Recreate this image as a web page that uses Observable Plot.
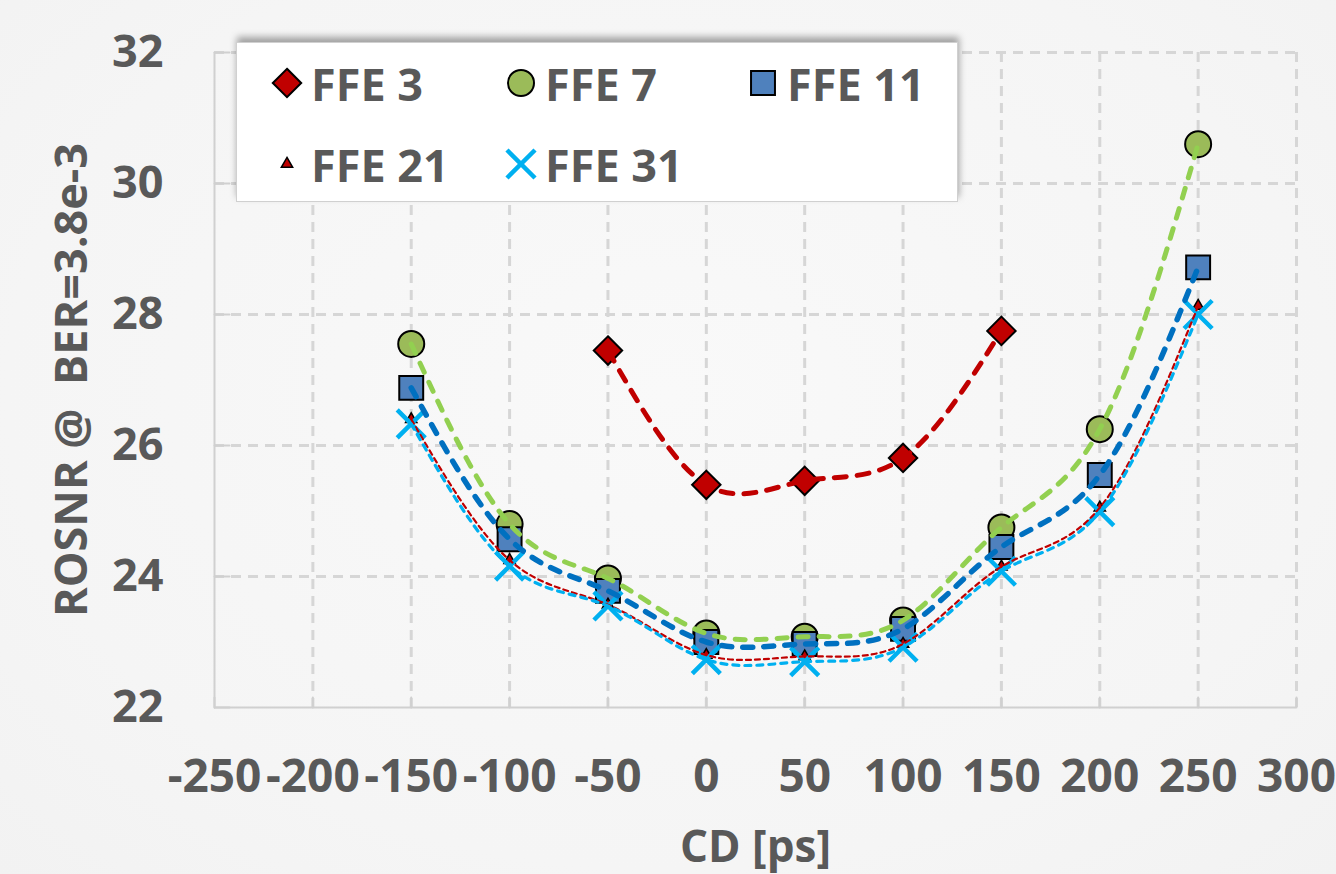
<!DOCTYPE html>
<html>
<head>
<meta charset="utf-8">
<script src="https://cdn.jsdelivr.net/npm/d3@7"></script>
<script src="https://cdn.jsdelivr.net/npm/@observablehq/plot@0.6"></script>
<style>
  html, body { margin: 0; padding: 0; background: #f6f6f6; }
  #wrap { position: relative; width: 1336px; height: 874px; overflow: hidden;
          background: radial-gradient(ellipse at 50% 45%, #f9f9f9 0%, #f5f5f5 70%, #f2f2f2 100%); }
  #legend { position: absolute; left: 236px; top: 42px; width: 722px; height: 160px;
            background: #ffffff; border: 1px solid #d0d0d0; box-sizing: border-box;
            box-shadow: 1px -5px 7px rgba(0,0,0,0.35); font-family: 'Open Sans', sans-serif;
            font-weight: 700; font-size: 45px; color: #595959; }
  .item { position: absolute; display: flex; align-items: center; height: 60px; }
  .item svg { margin-right: 6px; }
</style>
</head>
<body>
<div id="wrap"><div id="legend"></div></div>
<script>
// ---- data ----
const cdFFE3 = [-50, 0, 50, 100, 150];
const cdAll = [-150, -100, -50, 0, 50, 100, 150, 200, 250];
const ffe3  = [27.45, 25.40, 25.46, 25.81, 27.75];
const ffe7  = [27.55, 24.80, 23.97, 23.13, 23.08, 23.33, 24.75, 26.25, 30.60];
const ffe11 = [26.88, 24.57, 23.78, 23.00, 22.97, 23.20, 24.45, 25.55, 28.72];
const ffe21 = [26.40, 24.25, 23.57, 22.80, 22.78, 22.97, 24.15, 25.05, 28.13];
const ffe31 = [26.33, 24.16, 23.55, 22.73, 22.70, 22.92, 24.08, 24.99, 28.00];
const seriesNames = ["FFE 3", "FFE 7", "FFE 11", "FFE 21", "FFE 31"];
const xTicks = [-250, -200, -150, -100, -50, 0, 50, 100, 150, 200, 250, 300];
const yTicks = [22, 24, 26, 28, 30, 32];
const xLabel = "CD [ps]";
const yLabel = "ROSNR @\u00a0 BER=3.8e-3";

// ---- styles per series ----
const styles = {
  "FFE 3":  {symbol: "diamond2", r: 12.8, fill: "#c00000", stroke: "#000", sw: 2,
             line: "#c00000", lw: 5, dash: "12,11"},
  "FFE 7":  {symbol: "circle", r: 13, fill: "#9bbb59", stroke: "#000", sw: 2,
             line: "#92d050", lw: 5, dash: "10,11"},
  "FFE 11": {symbol: "square", r: 13.5, fill: "#4f81bd", stroke: "#000", sw: 2,
             line: "#0070c0", lw: 5.5, dash: "10,11"},
  "FFE 21": {symbol: "triangle", r: 4.2, fill: "#c00000", stroke: "#000", sw: 1.5,
             line: "#c00000", lw: 2.2, dash: "5,4"},
  "FFE 31": {symbol: "times", r: 12.8, fill: "none", stroke: "#00b0f0", sw: 4.5,
             line: "#00b0f0", lw: 3.2, dash: "6,6"}
};

const seriesData = [
  {name: "FFE 3",  cd: cdFFE3, v: ffe3},
  {name: "FFE 7",  cd: cdAll,  v: ffe7},
  {name: "FFE 11", cd: cdAll,  v: ffe11},
  {name: "FFE 21", cd: cdAll,  v: ffe21},
  {name: "FFE 31", cd: cdAll,  v: ffe31}
].map(s => ({name: s.name, rows: s.cd.map((c, i) => ({cd: c, rosnr: s.v[i], series: s.name}))}));

const font = "'Open Sans', sans-serif";
const gray = "#595959";
const grid = {stroke: "#d6d6d6", strokeOpacity: 1, strokeWidth: 3, strokeDasharray: "10,7"};
const tickShape = {draw(ctx, l) { ctx.moveTo(0, 0); ctx.lineTo(0, -l); }};

const marks = [
  Plot.gridX(xTicks.filter(d => d !== -250), {...grid}),
  Plot.gridY(yTicks.filter(d => d !== 22), {...grid}),
  Plot.ruleX([-250], {stroke: "#d0d0d0", strokeWidth: 2}),
  Plot.ruleY([22], {stroke: "#d0d0d0", strokeWidth: 2}),
  Plot.vector(xTicks, {x: d => d, frameAnchor: "bottom", length: 10, anchor: "start",
                       shape: tickShape, stroke: "#d0d0d0", strokeWidth: 2}),
  Plot.vector(yTicks, {y: d => d, frameAnchor: "left", length: 15, anchor: "start", rotate: 90,
                       shape: tickShape, stroke: "#d0d0d0", strokeWidth: 2}),
  Plot.axisX({ticks: xTicks, tickSize: 0, tickPadding: 52, fontSize: 46, fill: gray,
              fontWeight: 700, label: null, tickFormat: d => String(d)}),
  Plot.axisY({ticks: yTicks, tickSize: 0, tickPadding: 51, fontSize: 45, fill: gray,
              fontWeight: 700, label: null}),
  Plot.text([xLabel], {frameAnchor: "bottom", dy: 140, textAnchor: "middle", lineAnchor: "middle",
                       fontSize: 44, fontWeight: 700, fill: gray}),
  Plot.text([yLabel], {frameAnchor: "left", dx: -142, rotate: -90, textAnchor: "middle",
                       lineAnchor: "middle", fontSize: 45, fontWeight: 700, fill: gray})
];

// markers first (Excel draws trendlines above markers)
for (const s of seriesData) {
  const st = styles[s.name];
  marks.push(Plot.dot(s.rows, {x: "cd", y: "rosnr", symbol: () => st.symbol, r: st.r,
    fill: st.fill, stroke: st.stroke, strokeWidth: st.sw}));
}
for (const s of seriesData) {
  const st = styles[s.name];
  marks.push(Plot.line(s.rows, {x: "cd", y: "rosnr", curve: "natural",
    stroke: st.line, strokeWidth: st.lw, strokeDasharray: st.dash, strokeLinecap: "round"}));
}

const chart = Plot.plot({
  width: 1336, height: 874,
  marginLeft: 214, marginRight: 40, marginTop: 52, marginBottom: 167,
  style: {background: "transparent", fontFamily: font, color: gray, overflow: "visible"},
  x: {domain: [-250, 300]},
  y: {domain: [22, 32]},
  marks
});
chart.style.position = "absolute";
chart.style.left = "0";
chart.style.top = "0";
const wrap = document.getElementById("wrap");
wrap.insertBefore(chart, wrap.firstChild);

// ---- legend ----
const legend = document.getElementById("legend");
const legendPos = {
  "FFE 3":  [32, 10], "FFE 7":  [266, 10], "FFE 11": [508, 10],
  "FFE 21": [32, 91], "FFE 31": [266, 91]
};
const symMap = {diamond2: d3.symbolDiamond2, circle: d3.symbolCircle, square: d3.symbolSquare,
                triangle: d3.symbolTriangle, times: d3.symbolTimes};
for (const name of seriesNames) {
  const st = styles[name];
  const [lx, ly] = legendPos[name];
  const item = document.createElement("div");
  item.className = "item";
  item.style.left = lx + "px";
  item.style.top = ly + "px";
  const size = Math.PI * st.r * st.r;
  const path = d3.symbol(symMap[st.symbol], size)();
  item.innerHTML = `<svg width="36" height="36" viewBox="-18 -18 36 36"><path d="${path}" fill="${st.fill}" stroke="${st.stroke}" stroke-width="${st.sw}"/></svg><span>${name}</span>`;
  legend.appendChild(item);
}
</script>
</body>
</html>
